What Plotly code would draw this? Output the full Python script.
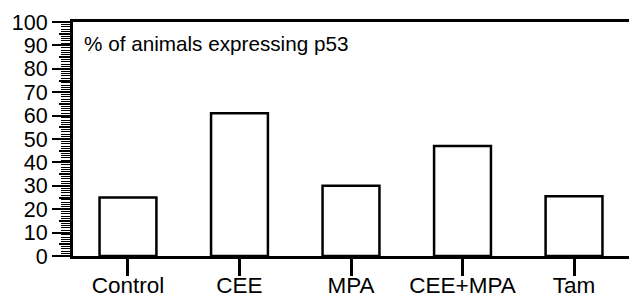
import plotly.graph_objects as go

categories = ["Control", "CEE", "MPA", "CEE+MPA", "Tam"]
values = [25, 61, 30, 47, 25.5]
y_tick_vals = [0, 10, 20, 30, 40, 50, 60, 70, 80, 90, 100]
title_text = "% of animals expressing p53"

FONT = "Arial, Liberation Sans, Helvetica, sans-serif"

fig = go.Figure()
fig.add_trace(go.Bar(
    x=list(range(len(categories))), y=values,
    width=0.51,
    marker=dict(color="white", line=dict(color="black", width=2.5)),
    showlegend=False,
))
# overlay for mid (5s) ticks
fig.add_trace(go.Scatter(x=[None], y=[None], yaxis="y2", showlegend=False))

fig.update_layout(
    width=629, height=297,
    margin=dict(l=73, r=0, t=22, b=41),
    paper_bgcolor="white", plot_bgcolor="white",
    font=dict(family=FONT, color="black", size=21),
    xaxis=dict(
        range=[-0.493, 4.493], automargin=False,
        tickmode="array", tickvals=list(range(len(categories))), ticktext=categories,
        ticks="outside", ticklen=17, tickwidth=2.5, tickcolor="black",
        showline=True, linecolor="black", linewidth=3, mirror=True,
        showgrid=False, zeroline=False,
        tickfont=dict(size=22.5), ticklabelstandoff=-10,
    ),
    yaxis=dict(
        range=[0, 100], automargin=False,
        tickmode="array", tickvals=y_tick_vals,
        ticks="outside", ticklen=18, tickwidth=2, tickcolor="black",
        minor=dict(dtick=1, ticks="outside", ticklen=9, tickwidth=1, tickcolor="black", showgrid=False),
        showline=True, linecolor="black", linewidth=3,
        showgrid=False, zeroline=False,
        tickfont=dict(size=21.5),
    ),
    yaxis2=dict(
        range=[0, 100], overlaying="y", side="left", anchor="x", automargin=False,
        tickmode="array", tickvals=[5, 15, 25, 35, 45, 55, 65, 75, 85, 95],
        ticks="outside", ticklen=13, tickwidth=1.5, tickcolor="black",
        showticklabels=False, showline=False, showgrid=False, zeroline=False,
    ),
)

fig.add_annotation(
    text=title_text, xref="paper", yref="paper",
    x=(82 - 73) / 556, y=(256 - 43) / 234,
    xanchor="left", yanchor="middle", showarrow=False,
    font=dict(family=FONT, size=20.7, color="black"),
)

fig.write_html(
    "out.html",
    config={"displayModeBar": False},
    post_script="document.body.style.margin='0';document.body.style.overflow='hidden';",
)
